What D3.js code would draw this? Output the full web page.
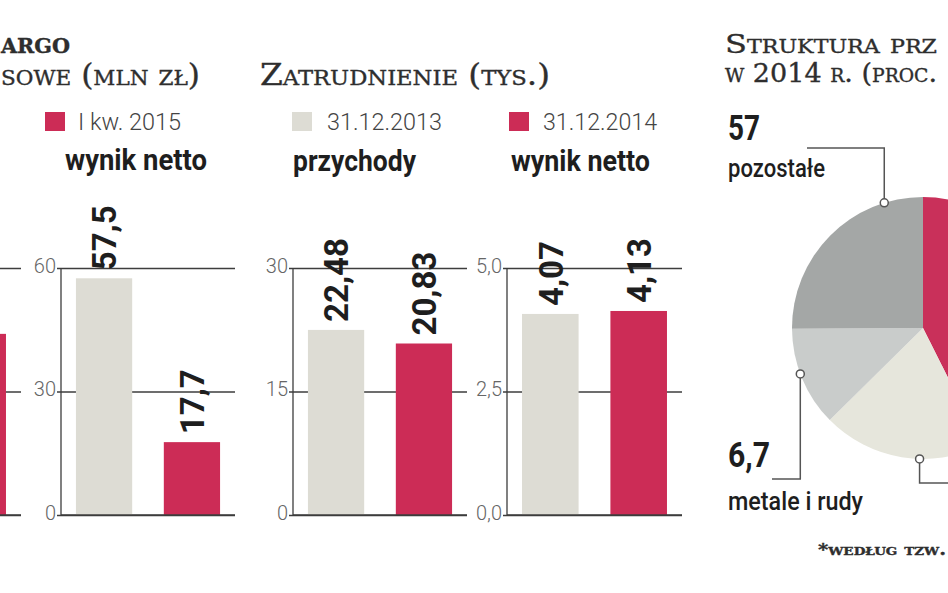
<!DOCTYPE html>
<html><head><meta charset="utf-8">
<script src="https://cdn.jsdelivr.net/npm/d3@7"></script>
<style>
html,body{margin:0;padding:0;background:#fff;overflow:hidden}
svg{display:block}
.serif{font-family:"DejaVu Serif",serif;font-variant:small-caps;fill:#2e2e2e;stroke:#2e2e2e;stroke-width:0.35px}
.sans{font-family:Roboto,sans-serif}
</style></head><body>
<svg id="c" width="948" height="593"></svg>
<script>
// ---------- data ----------
const finCategories = ["I kw. 2014", "I kw. 2015"];
const finRevenue = [null, 44];          // przychody (only right bar visible)
const finNetResult = [57.5, 17.7];      // wynik netto (mln zł)
const finTicks = [0, 30, 60];
const empCategories = ["31.12.2013", "31.12.2014"];
const empRevenue = [22.48, 20.83];
const empNetResult = [4.07, 4.13];
const empRevenueTicks = [0, 15, 30];
const empNetTicks = [0, 2.5, 5];
const pieSlices = ["segment 1", "segment 2", "metale i rudy", "pozostałe"];
const pieShares = [42.6, 20.0, 12.3, 25.1];
const calloutValues = ["57", "6,7"];
const calloutNames = ["pozostałe", "metale i rudy"];

// ---------- style ----------
const GRAY = "#dddcd4", RED = "#cc2c56", LINE = "#3d3d3d", TICK = "#666";
const pieColors = ["#c9305a", "#e6e6dc", "#c9cccb", "#a4a7a6"];
const svg = d3.select("#c");
const locale = d3.formatLocale({decimal: ",", thousands: " ", grouping: [3], currency: ["", " zł"]});
const fmtInt = locale.format("d"), fmt1 = locale.format(".1f");
const valText = v => String(v).replace(".", ",");
const fit = (sel, w) => sel.attr("textLength", w).attr("lengthAdjust", "spacingAndGlyphs");

// ---------- bar panels ----------
const plotTop = 268, plotBase = 515;
function panel(axisX, endX, cats, ticks, values, tfmt, showLabels) {
  const g = svg.append("g");
  const y = d3.scaleLinear().domain([0, d3.max(ticks)]).range([plotBase, plotTop]);
  const x = d3.scaleBand().domain(cats).range([axisX, endX]).paddingInner(0.36).paddingOuter(0.17);
  const ax = d3.axisLeft(y).tickValues(ticks).tickFormat(showLabels ? tfmt : "")
    .tickSize(-(endX - axisX + 4)).tickPadding(1);
  const ag = g.append("g").attr("transform", `translate(${axisX - 4},0)`).call(ax);
  ag.select(".domain").remove();
  ag.selectAll("line").attr("stroke", LINE).attr("stroke-width", 1.3);
  ag.selectAll("text").attr("fill", TICK).attr("font-family", "Roboto, sans-serif")
    .attr("font-weight", 300).attr("font-size", 20).attr("dy", "0.2em");
  g.append("line").attr("x1", axisX).attr("x2", axisX).attr("y1", y(d3.max(ticks))).attr("y2", y(0))
    .attr("stroke", LINE).attr("stroke-width", 1.3);
  const data = cats.map((c, i) => ({c, v: values[i], i})).filter(d => d.v != null);
  g.selectAll("rect.bar").data(data).join("rect").attr("class", "bar")
    .attr("x", d => x(d.c)).attr("width", x.bandwidth())
    .attr("y", d => y(d.v)).attr("height", d => y(0) - y(d.v))
    .attr("fill", d => d.i === 0 ? GRAY : RED);
  g.append("line").attr("x1", axisX).attr("x2", endX).attr("y1", y(0)).attr("y2", y(0))
    .attr("stroke", LINE).attr("stroke-width", 1.3);
  if (showLabels) {
    g.selectAll("text.val").data(data).join("text").attr("class", "val sans")
      .attr("transform", d => `translate(${x(d.c) + x.bandwidth() / 2},${y(d.v) - 8}) rotate(-90)`)
      .attr("dy", "0.37em").attr("font-size", 33).attr("font-weight", 700).attr("fill", "#1e1e1e")
      .text(d => valText(d.v));
  }
}
panel(-154, 21, finCategories, finTicks, finRevenue, fmtInt, false);
panel(61, 235, finCategories, finTicks, finNetResult, fmtInt, true);
panel(293, 467, empCategories, empRevenueTicks, empRevenue, fmtInt, true);
panel(507, 682, empCategories, empNetTicks, empNetResult, fmt1, true);

// ---------- headings (visible parts of the cropped infographic) ----------
const h = svg.append("g");
const headings = [
  {t: "argo", x: 1, y: 53, w: 69, s: 29, bold: true},
  {t: "sowe (mln zł)", x: 1, y: 85, w: 199, s: 29},
  {t: "Zatrudnienie (tys.)", x: 260, y: 85, w: 290, s: 29},
  {t: "Struktura prz", x: 725, y: 53, w: 212, s: 26},
  {t: "w 2014 r. (proc.", x: 725, y: 82, w: 212, s: 26}
];
headings.forEach(d => {
  fit(h.append("text").attr("class", "serif").attr("x", d.x).attr("y", d.y).attr("font-size", d.s)
    .attr("font-weight", d.bold ? 700 : 400).text(d.t), d.w);
});

// ---------- legends ----------
const lg = svg.append("g").attr("class", "sans");
const legendItems = [
  {name: finCategories[1], col: RED, sx: 45, tx: 78, w: 103},
  {name: empCategories[0], col: GRAY, sx: 292, tx: 327, w: 115},
  {name: empCategories[1], col: RED, sx: 509, tx: 543, w: 114}
];
legendItems.forEach(d => {
  lg.append("rect").attr("x", d.sx).attr("y", 112).attr("width", 20).attr("height", 19).attr("fill", d.col);
  fit(lg.append("text").attr("x", d.tx).attr("y", 130).attr("font-size", 23).attr("font-weight", 300)
    .attr("fill", "#444").text(d.name), d.w);
});
[["wynik netto", 65, 170, 142], ["przychody", 293, 171, 123], ["wynik netto", 511, 171, 139]].forEach(d => {
  fit(lg.append("text").attr("x", d[1]).attr("y", d[2]).attr("font-size", 30).attr("font-weight", 700)
    .attr("fill", "#1e1e1e").text(d[0]), d[3]);
});

// ---------- pie ----------
const cx = 923, cy = 328, R = 131;
const pie = d3.pie().sort(null).value(d => d.v);
const arcs = pie(pieSlices.map((n, i) => ({n, v: pieShares[i], i})));
const arc = d3.arc().innerRadius(0).outerRadius(R);
const pg = svg.append("g").attr("transform", `translate(${cx},${cy})`);
pg.selectAll("path").data(arcs).join("path").attr("d", arc).attr("fill", d => pieColors[d.data.i]);

// callouts
const polar = (deg, r) => [cx + r * Math.sin(deg * Math.PI / 180), cy - r * Math.cos(deg * Math.PI / 180)];
const callouts = [
  {angle: 342.8, pts: p => [p, [p[0], 148], [807, 148]]},
  {angle: 249.5, pts: p => [p, [p[0], 479], [772, 479]]},
  {angle: 181.5, pts: p => [p, [p[0], 483], [960, 483]]}
];
const cg = svg.append("g");
callouts.forEach(c => {
  const p = polar(c.angle, R);
  cg.append("path").attr("d", d3.line()(c.pts(p))).attr("fill", "none").attr("stroke", "#555").attr("stroke-width", 1.5);
  cg.append("circle").attr("cx", p[0]).attr("cy", p[1]).attr("r", 4).attr("fill", "#fff").attr("stroke", "#555").attr("stroke-width", 1.5);
});
const tg = svg.append("g").attr("class", "sans").attr("fill", "#1e1e1e");
fit(tg.append("text").attr("x", 728).attr("y", 140).attr("font-size", 35).attr("font-weight", 700).text(calloutValues[0]), 32);
fit(tg.append("text").attr("x", 728).attr("y", 177).attr("font-size", 26).attr("font-weight", 500).text(calloutNames[0]), 97);
fit(tg.append("text").attr("x", 728).attr("y", 467).attr("font-size", 35).attr("font-weight", 700).text(calloutValues[1]), 42);
fit(tg.append("text").attr("x", 728).attr("y", 510).attr("font-size", 26).attr("font-weight", 500).text(calloutNames[1]), 135);

// footnote
fit(svg.append("text").attr("class", "serif").attr("x", 818).attr("y", 555).attr("font-size", 16)
  .attr("font-weight", 700).text("*według tzw."), 128);
</script></body></html>
